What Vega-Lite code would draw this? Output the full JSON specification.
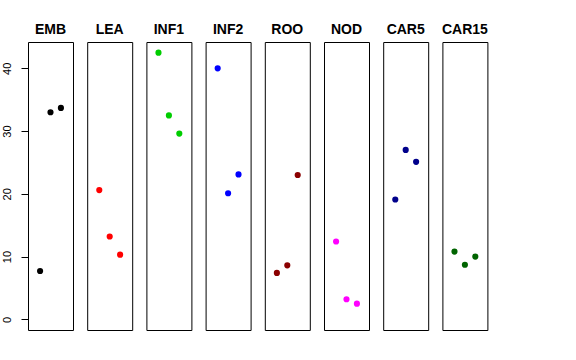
{
  "$schema": "https://vega.github.io/schema/vega-lite/v6.json",
  "padding": {"left": 1, "top": 23, "right": 5, "bottom": 5},
  "background": "white",
  "bounds": "flush",
  "data": {"values": [
    {"panel": "EMB", "idx": 1, "value": 7.7},
    {"panel": "EMB", "idx": 2, "value": 33.0},
    {"panel": "EMB", "idx": 3, "value": 33.7},
    {"panel": "LEA", "idx": 1, "value": 20.6},
    {"panel": "LEA", "idx": 2, "value": 13.2},
    {"panel": "LEA", "idx": 3, "value": 10.3},
    {"panel": "INF1", "idx": 1, "value": 42.5},
    {"panel": "INF1", "idx": 2, "value": 32.5},
    {"panel": "INF1", "idx": 3, "value": 29.6},
    {"panel": "INF2", "idx": 1, "value": 40.0},
    {"panel": "INF2", "idx": 2, "value": 20.1},
    {"panel": "INF2", "idx": 3, "value": 23.1},
    {"panel": "ROO", "idx": 1, "value": 7.4},
    {"panel": "ROO", "idx": 2, "value": 8.6},
    {"panel": "ROO", "idx": 3, "value": 23.0},
    {"panel": "NOD", "idx": 1, "value": 12.4},
    {"panel": "NOD", "idx": 2, "value": 3.2},
    {"panel": "NOD", "idx": 3, "value": 2.5},
    {"panel": "CAR5", "idx": 1, "value": 19.1},
    {"panel": "CAR5", "idx": 2, "value": 27.0},
    {"panel": "CAR5", "idx": 3, "value": 25.1},
    {"panel": "CAR15", "idx": 1, "value": 10.8},
    {"panel": "CAR15", "idx": 2, "value": 8.7},
    {"panel": "CAR15", "idx": 3, "value": 10.0}
  ]},
  "facet": {
    "column": {
      "field": "panel",
      "type": "nominal",
      "sort": ["EMB", "LEA", "INF1", "INF2", "ROO", "NOD", "CAR5", "CAR15"],
      "header": {
        "title": null,
        "labelFont": "Liberation Sans",
        "labelFontSize": 14,
        "labelFontWeight": "bold",
        "labelColor": "black",
        "labelBaseline": "bottom",
        "labelPadding": -9
      }
    }
  },
  "spacing": {"column": 14.2},
  "spec": {
    "width": 45,
    "height": 288,
    "mark": {"type": "circle", "size": 38, "opacity": 1},
    "encoding": {
      "x": {"field": "idx", "type": "quantitative", "scale": {"domain": [-0.16, 4.16], "nice": false, "zero": false}, "axis": null},
      "y": {"field": "value", "type": "quantitative", "scale": {"domain": [-1.7, 44.2], "nice": false, "zero": false},
        "axis": {"title": null, "values": [0, 10, 20, 30, 40], "domain": false, "grid": false, "tickSize": 7, "tickColor": "black", "labelAngle": 270, "labelFont": "Liberation Sans", "labelFontSize": 11, "labelColor": "black", "labelPadding": 9}},
      "color": {"field": "panel", "type": "nominal",
        "scale": {"domain": ["EMB", "LEA", "INF1", "INF2", "ROO", "NOD", "CAR5", "CAR15"], "range": ["#000000", "#FF0000", "#00CD00", "#0000FF", "#8B0000", "#FF00FF", "#00008B", "#006400"]},
        "legend": null}
    }
  },
  "config": {
    "view": {"stroke": "black", "strokeWidth": 1},
    "font": "Liberation Sans"
  }
}
